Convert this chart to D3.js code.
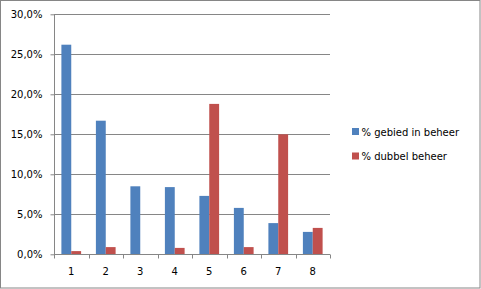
<!DOCTYPE html>
<html><head><meta charset="utf-8">
<script src="https://cdn.jsdelivr.net/npm/d3@7"></script>
<style>body{margin:0;background:#fff}svg{display:block}text{font-family:"DejaVu Sans",sans-serif;font-size:10px;fill:#000}</style>
</head><body><svg id="c" width="481" height="289"></svg>
<script>
const categories = ["1","2","3","4","5","6","7","8"];
const seriesNames = ["% gebied in beheer","% dubbel beheer"];
const gebied = [26.2,16.7,8.5,8.4,7.3,5.8,3.9,2.8];
const dubbel = [0.4,0.9,0,0.8,18.8,0.9,15.0,3.3];
const yTicks = [0,5,10,15,20,25,30];
const colors = ["#4F81BD","#C0504D"];

(function(){
const svg = d3.select("#c");
svg.append("rect").attr("x",0.5).attr("y",0.5).attr("width",479.5).attr("height",287.5)
  .attr("fill","#fff").attr("stroke","#868686");

const pLeft=54, pRight=330, pTop=14.3, pBottom=254.3;
const x = d3.scaleBand().domain(categories).range([pLeft,pRight]).paddingInner(1.5/3.5).paddingOuter(0.75/3.5);
const xg = d3.scaleBand().domain(categories).range([pLeft,pRight]);
const y = d3.scaleLinear().domain([0,30]).range([pBottom,pTop]);
const fmt = d => d.toFixed(1).replace(".",",")+"%";

// gridlines
svg.append("g").selectAll("line").data(yTicks.filter(d=>d>0)).join("line")
  .attr("x1",pLeft).attr("x2",pRight).attr("y1",d=>Math.round(y(d))+0.5).attr("y2",d=>Math.round(y(d))+0.5)
  .attr("stroke","#868686");

// bars
const sub = d3.scaleBand().domain([0,1]).range([0,x.bandwidth()]);
const data = [gebied,dubbel];
data.forEach((vals,si)=>{
  svg.append("g").selectAll("rect").data(vals).join("rect")
    .attr("x",(d,i)=>x(categories[i])+sub(si)).attr("width",sub.bandwidth())
    .attr("y",d=>y(d)).attr("height",d=>y(0)-y(d)).attr("fill",colors[si]);
});

// y axis
const ya = svg.append("g").attr("transform",`translate(${pLeft+0.5},0)`)
  .call(d3.axisLeft(y).tickValues(yTicks).tickFormat(fmt).tickSize(4).tickPadding(8));
ya.select(".domain").attr("stroke","#868686").attr("d",`M0,${pTop}V${pBottom}`);
ya.selectAll(".tick line").attr("stroke","#868686");
ya.selectAll("text").style("font-family","DejaVu Sans").style("font-size","10px").attr("fill","#000");

// x axis
const xa = svg.append("g").attr("transform",`translate(0,${Math.round(pBottom)+0.5})`)
  .call(d3.axisBottom(xg).tickSize(0).tickPadding(13));
xa.select(".domain").attr("stroke","#868686").attr("d",`M${pLeft},0H${pRight}`);
xa.selectAll(".tick line").remove();
const edges = categories.map(c=>xg(c)).concat([pRight]);
xa.append("g").selectAll("line").data(edges).join("line")
  .attr("x1",d=>Math.round(d)+0.5).attr("x2",d=>Math.round(d)+0.5)
  .attr("y1",0).attr("y2",4).attr("stroke","#868686");
xa.selectAll("text").style("font-family","DejaVu Sans").style("font-size","10px").attr("fill","#000");

// legend
const lg = svg.append("g");
seriesNames.forEach((n,i)=>{
  const yy = 128 + i*24.5;
  lg.append("rect").attr("x",352).attr("y",yy).attr("width",7).attr("height",7).attr("fill",colors[i]);
  lg.append("text").attr("x",361.5).attr("y",yy+7.5).text(n);
});
})();
</script></body></html>
